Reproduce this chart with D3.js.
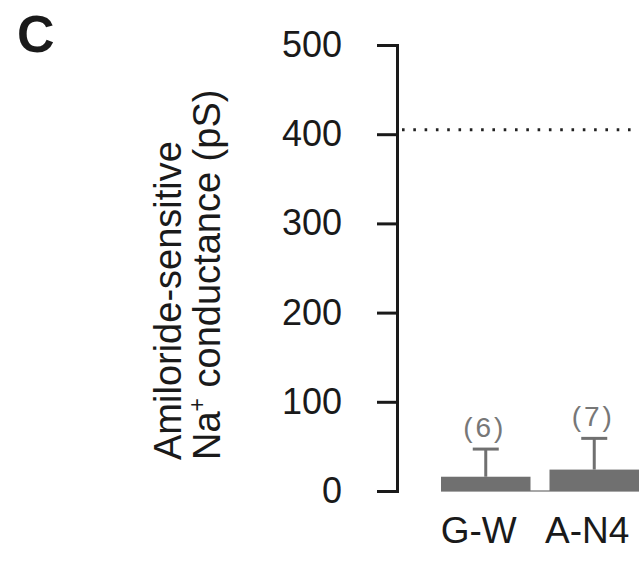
<!DOCTYPE html>
<html>
<head>
<meta charset="utf-8">
<title>Amiloride-sensitive conductance</title>
<script src="https://d3js.org/d3.v7.min.js"></script>
<style>
  body { margin: 0; background: #fff; }
  svg { display: block; font-family: "Liberation Sans", Arial, sans-serif; }
</style>
</head>
<body>
<svg id="chart" width="644" height="562"></svg>
<script>
// data
var groups = ["G-W", "A-N4"];
var means = [16, 24];
var errs = [31, 35];
var nCells = [6, 7];
var yTicks = [0, 100, 200, 300, 400, 500];
var refLevel = 405;

var svg = d3.select("#chart");
var ink = "#1a1a1a", barGrey = "#707070", labelGrey = "#777";

var y = d3.scaleLinear().domain([0, 500]).range([491, 45]);
var x = d3.scaleBand().domain(groups).range([441, 639]).paddingInner(0.175).paddingOuter(0);

// panel letter
svg.append("text")
  .attr("x", 17).attr("y", 52)
  .attr("font-size", 52).attr("font-weight", "bold").attr("fill", ink)
  .text("C");

// y axis
var axisX = 397;
var gy = svg.append("g")
  .attr("transform", "translate(" + axisX + ",0)")
  .call(d3.axisLeft(y).tickValues(yTicks).tickSize(20).tickPadding(35));
gy.select(".domain").attr("stroke", ink).attr("stroke-width", 3);
gy.selectAll(".tick line").attr("stroke", ink).attr("stroke-width", 3);
gy.selectAll(".tick text")
  .attr("font-size", 36).attr("fill", ink)
  .attr("font-family", "Liberation Sans, Arial, sans-serif");

// y label, two lines
svg.append("text")
  .attr("transform", "translate(181,460) rotate(-90)")
  .attr("font-size", 38).attr("fill", ink)
  .text("Amiloride-sensitive");
var l2 = svg.append("text")
  .attr("transform", "translate(220,460) rotate(-90)")
  .attr("font-size", 38).attr("fill", ink);
l2.append("tspan").text("Na");
l2.append("tspan").attr("font-size", 23).attr("dy", -15).text("+");
l2.append("tspan").attr("dy", 15).text(" conductance (pS)");

// dotted reference line
svg.append("line")
  .attr("x1", axisX + 5).attr("x2", 636)
  .attr("y1", y(refLevel)).attr("y2", y(refLevel))
  .attr("stroke", "#222").attr("stroke-width", 3)
  .attr("stroke-dasharray", "2.6 8.7");

// thin baseline under the bars
svg.append("line")
  .attr("x1", x.range()[0]).attr("x2", x.range()[1])
  .attr("y1", y(0)).attr("y2", y(0))
  .attr("stroke", "#8a8a8a").attr("stroke-width", 1.5);

var rows = groups.map(function(g, i) {
  return { g: g, m: means[i], e: errs[i], n: nCells[i] };
});

// bars
svg.selectAll("rect.bar").data(rows).enter().append("rect")
  .attr("class", "bar")
  .attr("x", function(d) { return x(d.g); })
  .attr("width", x.bandwidth())
  .attr("y", function(d) { return y(d.m); })
  .attr("height", function(d) { return y(0) - y(d.m); })
  .attr("fill", barGrey);

// error bars (upper only)
var cx = function(d) { return x(d.g) + x.bandwidth() / 2; };
svg.selectAll("line.stem").data(rows).enter().append("line")
  .attr("x1", cx).attr("x2", cx)
  .attr("y1", function(d) { return y(d.m); })
  .attr("y2", function(d) { return y(d.m + d.e); })
  .attr("stroke", barGrey).attr("stroke-width", 3);
svg.selectAll("line.cap").data(rows).enter().append("line")
  .attr("x1", function(d) { return cx(d) - 13; })
  .attr("x2", function(d) { return cx(d) + 13; })
  .attr("y1", function(d) { return y(d.m + d.e); })
  .attr("y2", function(d) { return y(d.m + d.e); })
  .attr("stroke", barGrey).attr("stroke-width", 3);

// n labels
svg.selectAll("text.n").data(rows).enter().append("text")
  .attr("x", function(d) { return cx(d) - 1; })
  .attr("y", function(d) { return y(d.m + d.e) - 12; })
  .attr("text-anchor", "middle")
  .attr("font-size", 28).attr("fill", labelGrey)
  .attr("letter-spacing", 3)
  .text(function(d) { return "(" + d.n + ")"; });

// category labels
svg.selectAll("text.cat").data(rows).enter().append("text")
  .attr("x", function(d) { return cx(d) - 7; })
  .attr("y", 543)
  .attr("text-anchor", "middle")
  .attr("font-size", 37).attr("fill", ink)
  .text(function(d) { return d.g; });
</script>
</body>
</html>
